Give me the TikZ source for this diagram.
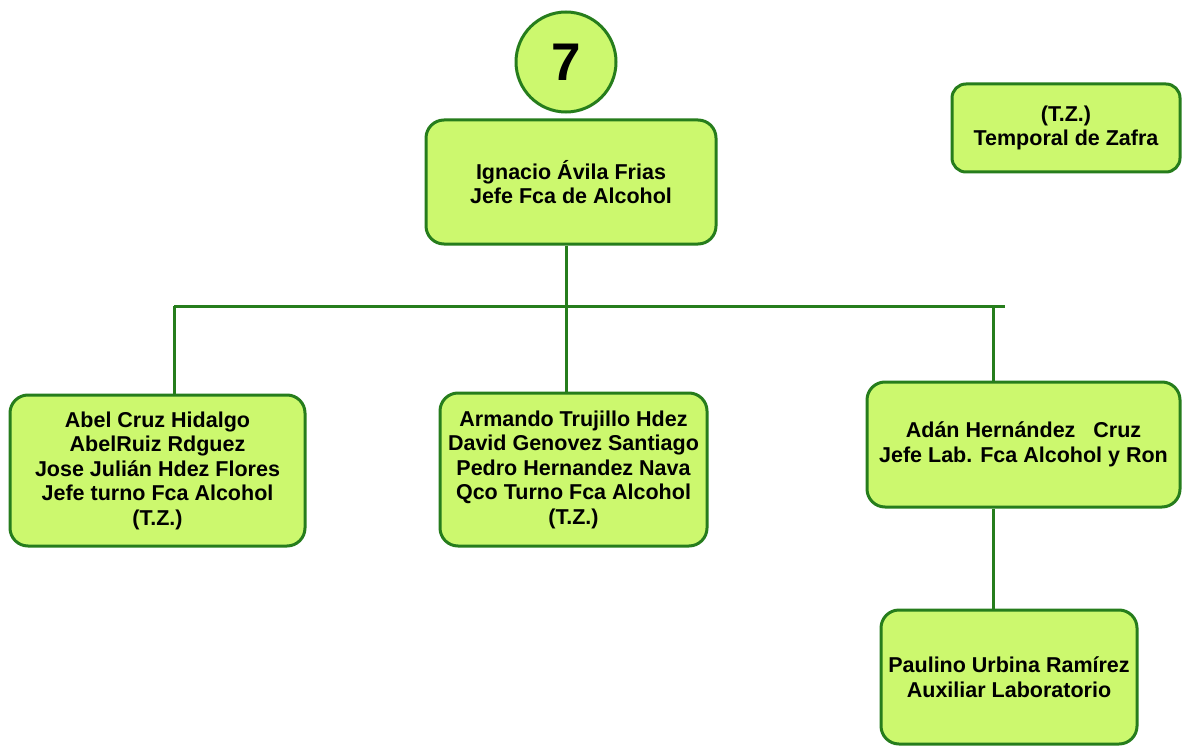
\documentclass[tikz,border=0pt]{standalone}
\usepackage{fontspec}
\setmainfont{Liberation Sans}
\definecolor{boxfill}{RGB}{204,248,110}
\definecolor{boxline}{RGB}{38,125,28}
\begin{document}
\begin{tikzpicture}[x=1pt,y=-1pt,
  orgbox/.style={draw=boxline, fill=boxfill, line width=3pt, rounded corners=18pt,
    align=center, inner sep=0pt, font=\bfseries\fontsize{21.5}{24.5}\selectfont},
  link/.style={draw=boxline, line width=3pt}]
\useasboundingbox (0,0) rectangle (1182,746);

% number badge and head of the plant
\node[draw=boxline, fill=boxfill, line width=3pt, circle, minimum size=100pt, inner sep=0pt,
  font=\bfseries\fontsize{53}{56}\selectfont] (seven) at (566,62) {7};
\node[orgbox, minimum width=290pt, minimum height=124pt] (head) at (571,182)
  {Ignacio Ávila Frias\\Jefe Fca de Alcohol};

% legend
\node[orgbox, rounded corners=14pt, minimum width=228pt, minimum height=88pt] (legend) at (1066,128)
  {(T.Z.)\\ Temporal de Zafra};

% second level
\node[orgbox, minimum width=295pt, minimum height=151pt] (shift) at (157.5,470.5)
  {Abel Cruz Hidalgo\\AbelRuiz Rdguez\\Jose Julián Hdez Flores\\Jefe turno Fca Alcohol\\(T.Z.)};
\node[orgbox, minimum width=267pt, minimum height=153pt] (chem) at (573.5,469.5)
  {Armando Trujillo Hdez\\David Genovez Santiago\\Pedro Hernandez Nava\\Qco Turno Fca Alcohol\\(T.Z.)};
\node[orgbox, minimum width=313pt, minimum height=125pt] (lab) at (1023.5,444.5)
  {Adán Hernández~~ Cruz\\Jefe Lab. Fca Alcohol y Ron};

% third level
\node[orgbox, minimum width=256pt, minimum height=134pt] (aux) at (1009,677)
  {Paulino Urbina Ramírez\\Auxiliar Laboratorio};

% bus line and drops
\coordinate (busL) at (174,306);
\coordinate (busR) at (1005,306);
\coordinate (busM) at (566,306);
\coordinate (busJ) at (993,306);

\draw[link] (busL) -- (busR);
\draw[link] (head.south -| busM) -- (busM);
\draw[link] (busL) -- (busL |- shift.north);
\draw[link] (busM) -- (busM |- chem.north);
\draw[link] (busJ) -- (busJ |- lab.north);
\draw[link] (busJ |- lab.south) -- (busJ |- aux.north);
\end{tikzpicture}
\end{document}
